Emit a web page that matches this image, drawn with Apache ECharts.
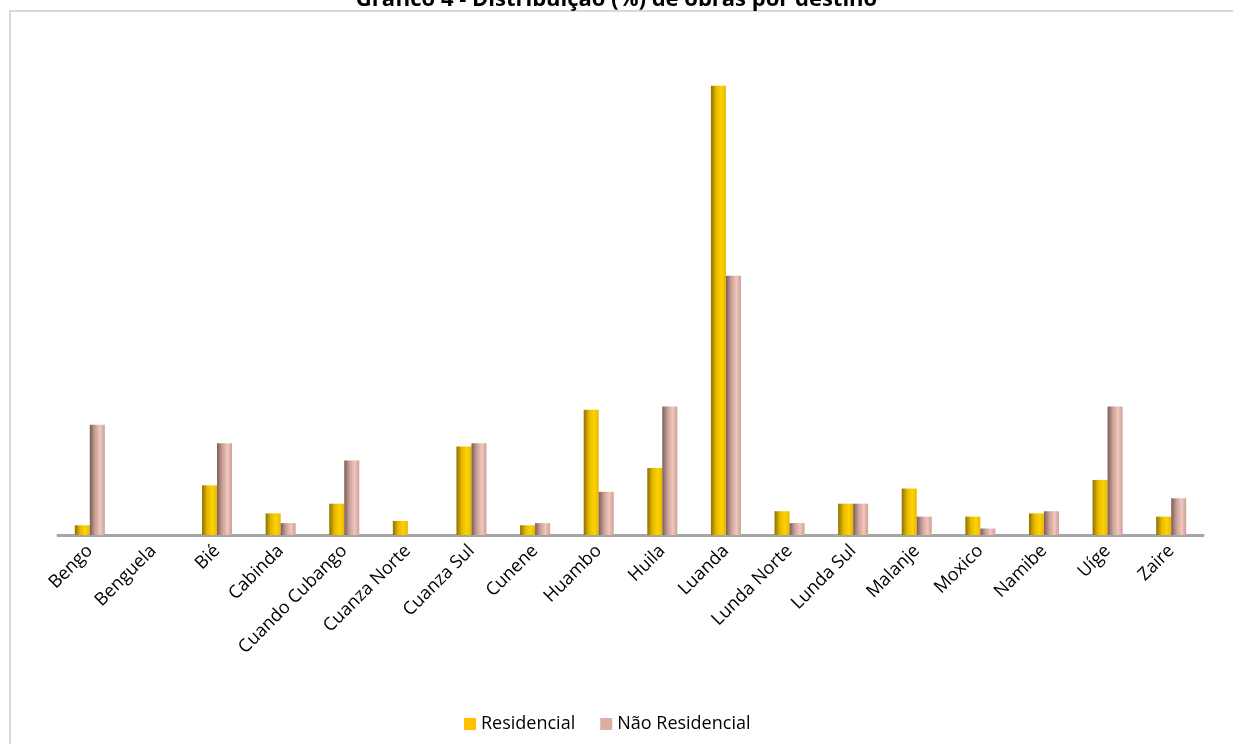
<!DOCTYPE html>
<html>
<head>
<meta charset="utf-8">
<script src="https://cdn.jsdelivr.net/npm/echarts@6/dist/echarts.min.js"></script>
<style>html,body{margin:0;padding:0;background:#fff}#c{width:1233px;height:744px}</style>
</head>
<body>
<div id="c"></div>
<script>
const categories = ["Bengo","Benguela","Bié","Cabinda","Cuando Cubango","Cuanza Norte","Cuanza Sul","Cunene","Huambo","Huila","Luanda","Lunda Norte","Lunda Sul","Malanje","Moxico","Namibe","Uíge","Zaire"];
const residencial = [0.9,0,4.6,2.0,2.9,1.3,8.2,0.9,11.6,6.2,41.6,2.2,2.9,4.3,1.7,2.0,5.1,1.7];
const naoResidencial = [10.2,0,8.5,1.1,6.9,0,8.5,1.1,4.0,11.9,24.0,1.1,2.9,1.7,0.6,2.2,11.9,3.4];
const seriesNames = ["Residencial","Não Residencial"];

const font = "'Open Sans', 'Noto Sans', sans-serif";
function grad(c0, c1, c2) {
  return new echarts.graphic.LinearGradient(0, 0, 1, 0, [
    {offset: 0, color: c0}, {offset: 0.35, color: c1}, {offset: 0.7, color: c2}, {offset: 1, color: c1}
  ]);
}
const chart = echarts.init(document.getElementById('c'));
chart.setOption({
  animation: false,
  backgroundColor: '#fff',
  title: {
    text: 'Gráfico 4 - Distribuição (%) de obras por destino',
    left: 'center', top: -16,
    textStyle: {fontFamily: font, fontSize: 22, fontWeight: 'bold', color: '#000'}
  },
  graphic: [{
    type: 'rect', shape: {x: 10, y: 11, width: 1240, height: 760},
    style: {fill: 'none', stroke: '#d9d9d9', lineWidth: 2}, silent: true, z: -1
  }],
  legend: {
    bottom: 6, left: 459, itemWidth: 12, itemHeight: 12, itemGap: 25,
    icon: 'rect',
    textStyle: {fontFamily: font, fontSize: 18, color: '#000'},
    data: [
      {name: seriesNames[0], itemStyle: {color: '#ffc000'}},
      {name: seriesNames[1], itemStyle: {color: '#dbaea4'}}
    ]
  },
  grid: {left: 58, right: 30, top: 49, bottom: 209},
  xAxis: {
    type: 'category', data: categories,
    axisLine: {lineStyle: {color: '#a6a6a6', width: 3}},
    axisTick: {show: false},
    axisLabel: {rotate: 45, fontFamily: font, fontSize: 18, color: '#000', margin: 13, interval: 0}
  },
  yAxis: {type: 'value', min: 0, max: 45, show: false, splitLine: {show: false}},
  series: [
    {name: seriesNames[0], type: 'bar', data: residencial, barWidth: 15, barGap: '0%',
     itemStyle: {color: grad('#8c7000', '#e6b800', '#ffd200')}},
    {name: seriesNames[1], type: 'bar', data: naoResidencial, barWidth: 15,
     itemStyle: {color: grad('#7a5c56', '#c9a097', '#f2c6bb')}}
  ]
});
</script>
</body>
</html>
